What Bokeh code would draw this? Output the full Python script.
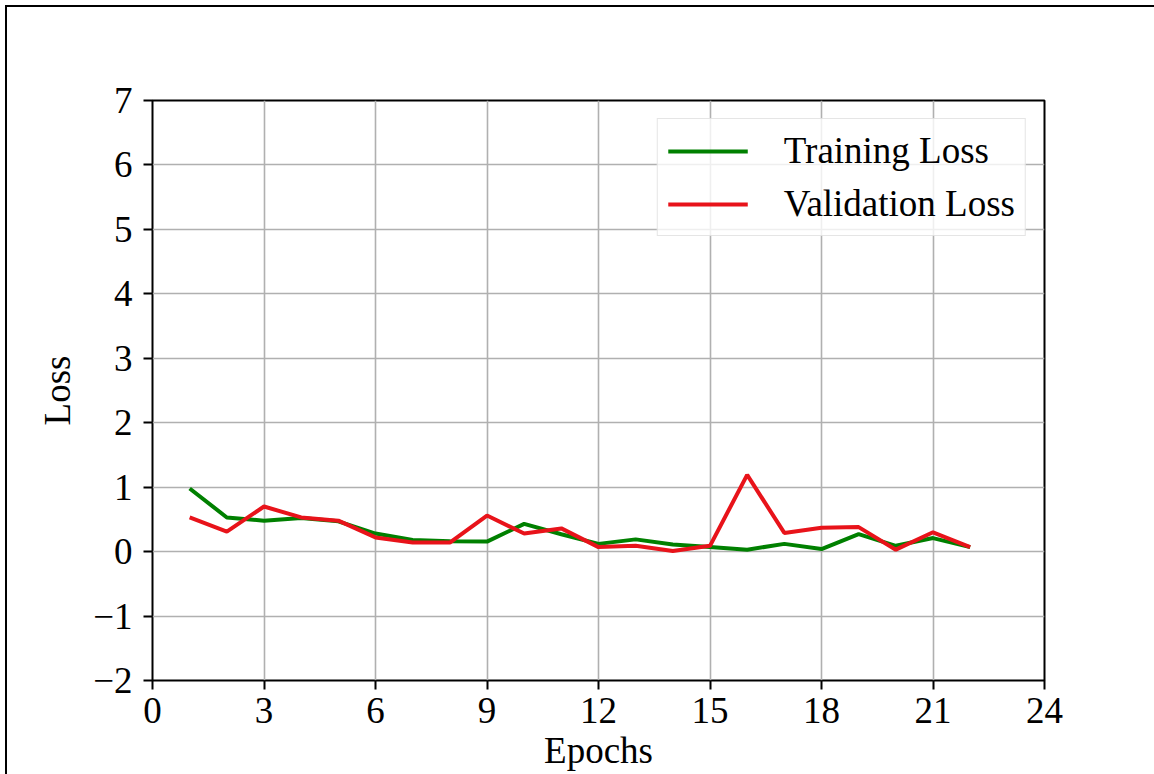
from bokeh.plotting import figure
from bokeh.models import FixedTicker, Legend, LegendItem
from bokeh.embed import file_html
from bokeh.resources import INLINE

# Loss per epoch
epochs = list(range(1, 23))
train_loss = [0.98, 0.53, 0.48, 0.52, 0.47, 0.28, 0.18, 0.16, 0.155, 0.43, 0.27,
              0.12, 0.19, 0.11, 0.07, 0.03, 0.12, 0.04, 0.27, 0.09, 0.21, 0.07]
val_loss = [0.53, 0.31, 0.70, 0.53, 0.48, 0.22, 0.14, 0.14, 0.56, 0.28, 0.36,
            0.07, 0.09, 0.01, 0.09, 1.19, 0.29, 0.37, 0.38, 0.03, 0.30, 0.07]

x_ticks = [0, 3, 6, 9, 12, 15, 18, 21, 24]
y_ticks = [-2, -1, 0, 1, 2, 3, 4, 5, 6, 7]

FONT = "Liberation Serif"
SIZE = "37px"

p = figure(width=1154, height=774, x_range=(0, 24), y_range=(-2, 7),
           output_backend="svg", toolbar_location=None,
           min_border_left=152, min_border_top=100,
           min_border_right=110, min_border_bottom=94)
p.background_fill_color = "white"
p.border_fill_color = None
p.outline_line_color = "black"
p.outline_line_width = 2
# thin page frame along the top and left edges of the figure
p.styles = {
    "background-color": "white",
    "background-image": "linear-gradient(black, black), linear-gradient(black, black)",
    "background-size": "2px 100%, 100% 2px",
    "background-position": "5px 5px, 5px 5px",
    "background-repeat": "no-repeat",
}

r_train = p.line(epochs, train_loss, line_color="#008000", line_width=4)
r_val = p.line(epochs, val_loss, line_color="#e8131a", line_width=4)

for ax in (p.xaxis[0], p.yaxis[0]):
    ax.axis_line_color = None
    ax.major_tick_in = 0
    ax.major_tick_out = 9
    ax.major_tick_line_width = 2
    ax.major_tick_line_color = "black"
    ax.minor_tick_line_color = None
    ax.major_label_text_font = FONT
    ax.major_label_text_font_size = SIZE
    ax.major_label_text_color = "black"
    ax.axis_label_text_font = FONT
    ax.axis_label_text_font_size = SIZE
    ax.axis_label_text_font_style = "normal"
    ax.axis_label_text_color = "black"

p.xaxis.ticker = FixedTicker(ticks=x_ticks)
p.yaxis.ticker = FixedTicker(ticks=y_ticks)
p.yaxis.major_label_overrides = {t: ("\u2212%d" % -t if t < 0 else str(t)) for t in y_ticks}
p.xaxis.axis_label = "Epochs"
p.yaxis.axis_label = "Loss"
p.xaxis.major_label_standoff = 8
p.xaxis.axis_label_standoff = 4
p.yaxis.major_label_standoff = 11
p.yaxis.axis_label_standoff = 12

p.xgrid.ticker = FixedTicker(ticks=x_ticks)
p.ygrid.ticker = FixedTicker(ticks=y_ticks)
for g in (p.xgrid[0], p.ygrid[0]):
    g.grid_line_color = "#b0b0b0"
    g.grid_line_width = 1.6

legend = Legend(items=[LegendItem(label="Training Loss", renderers=[r_train]),
                       LegendItem(label="Validation Loss", renderers=[r_val])],
                location="top_right")
legend.label_text_font = FONT
legend.label_text_font_size = SIZE
legend.label_text_color = "black"
legend.glyph_width = 80
legend.label_standoff = 36
legend.padding = 10
legend.spacing = 10
legend.margin = 18
legend.border_line_color = "#cccccc"
legend.border_line_width = 1.5
legend.background_fill_alpha = 0.8
p.add_layout(legend)

open("out.html", "w").write(file_html(p, INLINE))
